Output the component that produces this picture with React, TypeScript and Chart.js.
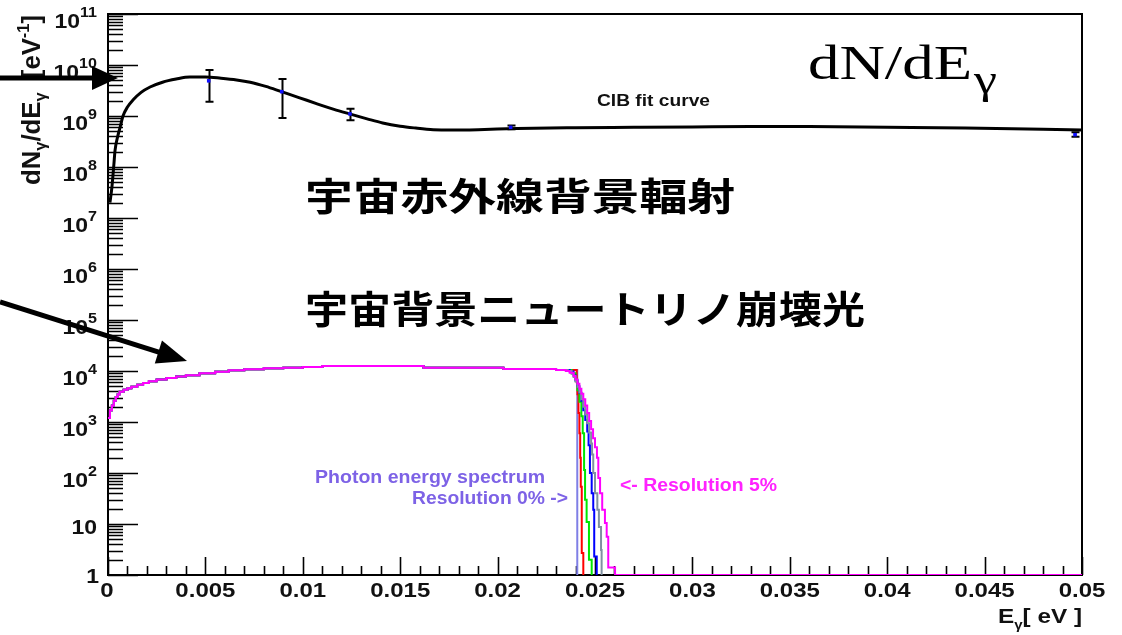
import { useEffect, useRef } from "react";
import { Chart, registerables } from "chart.js";

Chart.register(...registerables);

// ---------------- DATA ----------------
// CIB fit curve (E [eV], dN/dE [1/eV])
const cibE = [0.0001, 0.0002, 0.0003, 0.00036, 0.0005, 0.00062, 0.00077, 0.001, 0.00128, 0.0017, 0.00216, 0.0028, 0.0035, 0.0042, 0.005, 0.0058, 0.0066, 0.0073, 0.0081, 0.0089, 0.0098, 0.0107, 0.0116, 0.0124, 0.0133, 0.0141, 0.015, 0.0158, 0.0167, 0.0176, 0.019, 0.021, 0.024, 0.027, 0.03, 0.033, 0.036, 0.04, 0.044, 0.048, 0.05];
const cibN = [2e7, 4e7, 1.1e8, 2.1e8, 4e8, 6e8, 1e9, 1.5e9, 2.05e9, 2.9e9, 3.7e9, 4.6e9, 5.3e9, 5.8e9, 5.8e9, 5.5e9, 5.1e9, 4.6e9, 3.8e9, 3.0e9, 2.3e9, 1.75e9, 1.35e9, 1.1e9, 8.8e8, 7.3e8, 6.3e8, 5.8e8, 5.4e8, 5.3e8, 5.4e8, 5.7e8, 5.9e8, 6.0e8, 6.1e8, 6.2e8, 6.2e8, 6.0e8, 5.8e8, 5.5e8, 5.3e8];

// CIB measurements with error bars
const ptE = [0.00517, 0.00892, 0.01242, 0.02067, 0.04964];
const ptN = [4.9e9, 3.0e9, 1.1e9, 6.0e8, 4.3e8];
const ptLo = [1.9e9, 9.1e8, 8.3e8, 5.5e8, 3.9e8];
const ptHi = [8.0e9, 5.3e9, 1.38e9, 6.5e8, 4.8e8];

// Common part of the neutrino-decay photon spectrum (histogram)
const baseE = [0, 0.0001, 0.0002, 0.0003, 0.0004, 0.0005, 0.0006, 0.0008, 0.001, 0.0012, 0.0015, 0.0018, 0.0021, 0.0025, 0.003, 0.0035, 0.004, 0.0047, 0.0055, 0.0062, 0.007, 0.008, 0.009, 0.01, 0.011, 0.0162, 0.0203, 0.023];
const baseN = [1200, 1700, 2100, 2600, 3100, 3500, 3900, 4300, 4600, 4900, 5400, 5800, 6300, 6800, 7300, 7800, 8300, 9000, 9700, 10300, 10800, 11300, 11600, 12000, 12600, 11600, 11000, 10500];

// Cut-off tails for each energy resolution
const res0E = [0.0235, 0.02409];
const res0N = [10500, 1];
const res1E = [0.0235, 0.02406, 0.0241, 0.02415, 0.0242, 0.02424, 0.02427, 0.02432, 0.0244];
const res1N = [10500, 6000, 3500, 1500, 600, 200, 54, 2.7, 1];
const res2E = [0.0235, 0.0238, 0.024, 0.0241, 0.0242, 0.0243, 0.02437, 0.02444, 0.02449, 0.02457, 0.02469, 0.02483];
const res2N = [10500, 9000, 6500, 4200, 2500, 1300, 600, 115, 30, 11, 2, 1];
const res3E = [0.0235, 0.0237, 0.0239, 0.024, 0.0241, 0.0242, 0.0243, 0.0244, 0.0245, 0.0246, 0.02467, 0.02474, 0.02483, 0.02491, 0.02496, 0.02509];
const res3N = [10500, 9800, 8200, 6500, 5000, 3700, 2600, 1700, 1100, 650, 350, 100, 40, 19, 2.3, 1];
const res4E = [0.0235, 0.0236, 0.0238, 0.0239, 0.024, 0.0241, 0.0242, 0.0243, 0.0244, 0.0245, 0.0246, 0.0247, 0.0248, 0.02485, 0.02491, 0.025, 0.02512, 0.0252, 0.02531, 0.02534];
const res4N = [10500, 10000, 8800, 7600, 6200, 4900, 3800, 2800, 2000, 1400, 950, 620, 380, 230, 100, 40, 19, 8.7, 3.1, 1];
const res5E = [0.0235, 0.0237, 0.0239, 0.024, 0.0241, 0.0242, 0.0243, 0.0244, 0.0245, 0.0246, 0.0247, 0.0248, 0.0249, 0.025, 0.0251, 0.02517, 0.02526, 0.02537, 0.02551, 0.0256, 0.02568, 0.02603, 0.05];
const res5N = [10000, 9200, 8000, 6800, 5600, 4500, 3600, 2800, 2100, 1500, 1050, 720, 480, 320, 200, 80, 40, 19, 10.5, 5.6, 1.4, 1, 1];

const resColors = ["#7f7fe6", "#ff0000", "#00e600", "#0000ff", "#8090a0", "#ff00ff"];

// Axis ticks / labels
const xMajor = [0, 0.005, 0.01, 0.015, 0.02, 0.025, 0.03, 0.035, 0.04, 0.045, 0.05];
const xLabels = ["0", "0.005", "0.01", "0.015", "0.02", "0.025", "0.03", "0.035", "0.04", "0.045", "0.05"];
const xMinorStep = 0.001;
const yDecades = [1, 1e1, 1e2, 1e3, 1e4, 1e5, 1e6, 1e7, 1e8, 1e9, 1e10, 1e11];
const yBase = ["1", "10", "10", "10", "10", "10", "10", "10", "10", "10", "10", "10"];
const yExp = ["", "", "2", "3", "4", "5", "6", "7", "8", "9", "10", "11"];

// ---------------- helpers ----------------
const SANS = '"Liberation Sans", Arial, sans-serif';

function pts(E: number[], N: number[]) {
  return E.map((e, i) => ({ x: e, y: N[i] }));
}

function drawStretched(ctx: CanvasRenderingContext2D, text: string, x: number, y: number, font: string, color: string, sx: number, align: string, baseline: CanvasTextBaseline) {
  ctx.save();
  ctx.font = font;
  ctx.fillStyle = color;
  ctx.textBaseline = baseline;
  ctx.textAlign = "left";
  const w = ctx.measureText(text).width * sx;
  const x0 = align === "left" ? x : align === "right" ? x - w : x - w / 2;
  ctx.translate(x0, y);
  ctx.scale(sx, 1);
  ctx.fillText(text, 0, 0);
  ctx.restore();
  return w;
}

function drawFit(ctx: CanvasRenderingContext2D, text: string, x: number, y: number, font: string, color: string, width: number, baseline: CanvasTextBaseline) {
  ctx.save();
  ctx.font = font;
  const w = ctx.measureText(text).width;
  ctx.restore();
  drawStretched(ctx, text, x, y, font, color, width / w, "left", baseline);
}

type Seg = { t: string; size: number; dy: number };
function segWidth(ctx: CanvasRenderingContext2D, segs: Seg[]) {
  let w = 0;
  for (const s of segs) {
    ctx.font = `bold ${s.size}px ${SANS}`;
    w += ctx.measureText(s.t).width;
  }
  return w;
}
function drawSegs(ctx: CanvasRenderingContext2D, segs: Seg[]) {
  let x = 0;
  for (const s of segs) {
    ctx.font = `bold ${s.size}px ${SANS}`;
    ctx.fillText(s.t, x, s.dy);
    x += ctx.measureText(s.t).width;
  }
}

function arrow(ctx: CanvasRenderingContext2D, x0: number, y0: number, x1: number, y1: number, headLen: number, headHalf: number, width: number) {
  const dx = x1 - x0, dy = y1 - y0;
  const L = Math.hypot(dx, dy);
  const ux = dx / L, uy = dy / L;
  const bx = x1 - ux * headLen, by = y1 - uy * headLen;
  ctx.save();
  ctx.strokeStyle = "#000";
  ctx.fillStyle = "#000";
  ctx.lineWidth = width;
  ctx.beginPath();
  ctx.moveTo(x0, y0);
  ctx.lineTo(bx + ux * 2, by + uy * 2);
  ctx.stroke();
  ctx.beginPath();
  ctx.moveTo(x1, y1);
  ctx.lineTo(bx - uy * headHalf, by + ux * headHalf);
  ctx.lineTo(bx + uy * headHalf, by - ux * headHalf);
  ctx.closePath();
  ctx.fill();
  ctx.restore();
}

const rootPlugin = {
  id: "rootPlugin",
  beforeDatasetsDraw(chart: any) {
    const { ctx, chartArea: a, scales } = chart;
    const xs = scales.x, ys = scales.y;
    ctx.save();
    ctx.strokeStyle = "#000";
    // frame
    ctx.lineWidth = 2;
    ctx.strokeRect(a.left, a.top, a.right - a.left, a.bottom - a.top);
    // y ticks
    ctx.lineWidth = 1.6;
    ctx.beginPath();
    for (let k = 0; k < yDecades.length; k++) {
      const d = yDecades[k];
      const py = Math.round(ys.getPixelForValue(d)) + 0.5;
      ctx.moveTo(a.left, py);
      ctx.lineTo(a.left + 30, py);
      if (k < yDecades.length - 1) {
        for (let m = 2; m <= 9; m++) {
          const pm = Math.round(ys.getPixelForValue(d * m)) + 0.5;
          ctx.moveTo(a.left, pm);
          ctx.lineTo(a.left + 15, pm);
        }
      }
    }
    // x ticks
    const nMinor = Math.round(0.05 / xMinorStep);
    for (let i = 0; i <= nMinor; i++) {
      const v = i * xMinorStep;
      const px = Math.round(xs.getPixelForValue(v)) + 0.5;
      const len = i % 5 === 0 ? 18 : 9;
      ctx.moveTo(px, a.bottom);
      ctx.lineTo(px, a.bottom - len);
    }
    ctx.stroke();
    // error bars
    ctx.lineWidth = 2;
    ctx.beginPath();
    for (let i = 0; i < ptE.length; i++) {
      const px = Math.round(xs.getPixelForValue(ptE[i])) + 0.5;
      const pl = ys.getPixelForValue(ptLo[i]);
      const ph = ys.getPixelForValue(ptHi[i]);
      ctx.moveTo(px, pl);
      ctx.lineTo(px, ph);
      ctx.moveTo(px - 4, pl);
      ctx.lineTo(px + 4, pl);
      ctx.moveTo(px - 4, ph);
      ctx.lineTo(px + 4, ph);
    }
    ctx.stroke();
    ctx.restore();
  },
  afterDraw(chart: any) {
    const { ctx, chartArea: a, scales } = chart;
    const xs = scales.x, ys = scales.y;
    const col = "#111";
    // y labels
    for (let k = 0; k < yDecades.length; k++) {
      const py = ys.getPixelForValue(yDecades[k]);
      if (k === 0) {
        drawStretched(ctx, yBase[k], 99, py + 2, `bold 20px ${SANS}`, col, 1.15, "right", "middle");
      } else if (k === 1) {
        drawStretched(ctx, yBase[k], 97, py + 4, `bold 20px ${SANS}`, col, 1.15, "right", "middle");
      } else {
        const ew = drawStretched(ctx, yExp[k], 97, py - 1, `bold 14px ${SANS}`, col, 1.15, "right", "middle");
        drawStretched(ctx, yBase[k], 97 - ew, py + 8, `bold 20px ${SANS}`, col, 1.15, "right", "middle");
      }
    }
    // x labels
    for (let i = 0; i < xMajor.length; i++) {
      const px = xs.getPixelForValue(xMajor[i]);
      drawStretched(ctx, xLabels[i], i === 0 ? px - 1 : px, 591, `bold 20px ${SANS}`, col, 1.2, "center", "middle");
    }
    // x title  E_γ[ eV ]
    {
      const segs: Seg[] = [
        { t: "E", size: 21, dy: 0 },
        { t: "γ", size: 13, dy: 6 },
        { t: "[ eV ]", size: 21, dy: 0 },
      ];
      const w = segWidth(ctx, segs);
      const sx = 84 / w;
      ctx.save();
      ctx.fillStyle = col;
      ctx.textBaseline = "alphabetic";
      ctx.textAlign = "left";
      ctx.translate(a.right - 84, 623);
      ctx.scale(sx, 1);
      drawSegs(ctx, segs);
      ctx.restore();
    }
    // y title  dN_γ/dE_γ [eV^-1]
    {
      const segs: Seg[] = [
        { t: "dN", size: 22, dy: 0 },
        { t: "γ", size: 14, dy: 5 },
        { t: "/dE", size: 22, dy: 0 },
        { t: "γ", size: 14, dy: 5 },
        { t: "  [eV", size: 22, dy: 0 },
        { t: "-1", size: 14, dy: -10 },
        { t: "]", size: 22, dy: 0 },
      ];
      const w = segWidth(ctx, segs);
      ctx.save();
      ctx.fillStyle = col;
      ctx.textBaseline = "alphabetic";
      ctx.textAlign = "left";
      ctx.translate(40, 185);
      ctx.rotate(-Math.PI / 2);
      ctx.scale(170 / w, 1.15);
      drawSegs(ctx, segs);
      ctx.restore();
    }
    // annotations
    drawFit(ctx, "CIB fit curve", 597, 106, `bold 16px ${SANS}`, col, 113, "alphabetic");
    drawFit(ctx, "dN/dE", 808, 79, `48px "Liberation Serif", "Times New Roman", serif`, "#000", 164, "alphabetic");
    drawFit(ctx, "γ", 974, 93, `40px "Liberation Serif", "Times New Roman", serif`, "#000", 23, "alphabetic");
    drawFit(ctx, "宇宙赤外線背景輻射", 305, 196, `bold 38px "Noto Sans CJK JP", sans-serif`, "#000", 430, "middle");
    drawFit(ctx, "宇宙背景ニュートリノ崩壊光", 305, 309, `bold 38px "Noto Sans CJK JP", sans-serif`, "#000", 560, "middle");
    drawFit(ctx, "Photon energy spectrum", 315, 483, `bold 18px ${SANS}`, "#7d62e6", 230, "alphabetic");
    drawFit(ctx, "Resolution 0% ->", 412, 504, `bold 18px ${SANS}`, "#7d62e6", 156, "alphabetic");
    drawFit(ctx, "<- Resolution 5%", 620, 491, `bold 18px ${SANS}`, "#ff22ff", 157, "alphabetic");
    // arrows
    arrow(ctx, 0, 78, 118, 78, 26, 12, 5);
    arrow(ctx, 0, 302, 187, 361, 30, 12, 5);
  },
};

function spectrum(tailE: number[], tailN: number[]) {
  return pts(baseE.concat(tailE), baseN.concat(tailN));
}

export default function App() {
  const ref = useRef<HTMLCanvasElement>(null);
  useEffect(() => {
    const tails: [number[], number[]][] = [
      [res5E, res5N],
      [res4E, res4N],
      [res3E, res3N],
      [res2E, res2N],
      [res1E, res1N],
      [res0E, res0N],
    ];
    const tailColors = [resColors[5], resColors[4], resColors[3], resColors[2], resColors[1], resColors[0]];
    const histDatasets = tails.map((t, i) => ({
      type: "line" as const,
      data: spectrum(t[0], t[1]),
      borderColor: tailColors[i],
      borderWidth: 2,
      stepped: "before" as const,
      pointRadius: 0,
      fill: false,
    }));
    const chart = new Chart(ref.current as HTMLCanvasElement, {
      type: "line",
      data: {
        datasets: [
          {
            type: "line",
            data: pts(ptE, ptN),
            showLine: false,
            pointStyle: "rect",
            pointRadius: 2.5,
            pointBackgroundColor: "#1010ff",
            pointBorderColor: "#1010ff",
            pointBorderWidth: 0,
          } as any,
          {
            type: "line",
            data: pts(cibE, cibN),
            borderColor: "#000",
            borderWidth: 3,
            cubicInterpolationMode: "monotone",
            pointRadius: 0,
            fill: false,
          },
          ...histDatasets,
        ],
      },
      options: {
        responsive: false,
        animation: false,
        devicePixelRatio: 1,
        layout: { padding: { left: 108, right: 40, top: 14, bottom: 60 } },
        scales: {
          x: { type: "linear", min: 0, max: 0.05, display: false },
          y: { type: "logarithmic", min: 1, max: 1e11, display: false },
        },
        plugins: { legend: { display: false }, tooltip: { enabled: false } },
        events: [],
      },
      plugins: [rootPlugin],
    });
    return () => chart.destroy();
  }, []);
  return (
    <div style={{ position: "absolute", left: 0, top: 0, width: 1122, height: 635, background: "#fff" }}>
      <canvas ref={ref} width={1122} height={635} style={{ display: "block", width: 1122, height: 635 }} />
    </div>
  );
}
